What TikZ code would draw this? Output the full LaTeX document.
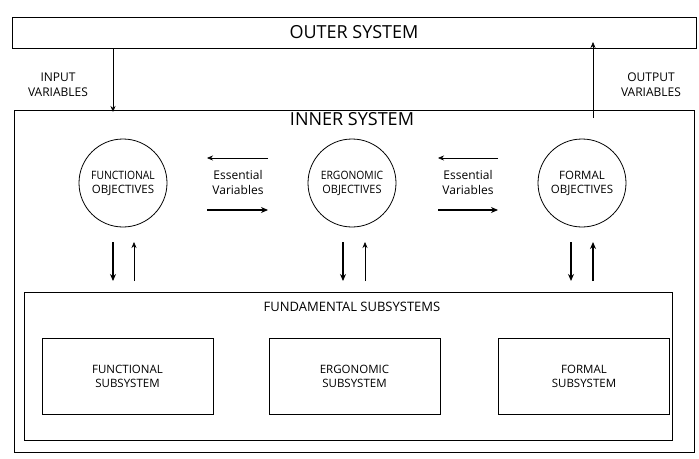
\documentclass[tikz,border=0pt]{standalone}
\usepackage{fontspec}
\setmainfont{Open Sans}
\usetikzlibrary{arrows.meta}
\begin{document}
\begin{tikzpicture}[x=1pt,y=-1pt,
    box/.style={draw,thick,inner sep=0pt},
    goal/.style={draw,thick,circle,minimum size=88pt,inner sep=0pt,align=center,font=\fontsize{11.5}{14}\selectfont},
    sub/.style={draw,thick,minimum width=171pt,minimum height=76pt,align=center,font=\fontsize{11.5}{14}\selectfont},
    lbl/.style={align=center,font=\fontsize{12}{15}\selectfont},
    thin arr/.style={-{Stealth[length=6pt,width=5pt]},semithick},
    thick arr/.style={-{Stealth[length=7pt,width=6pt]},line width=1.3pt}]
  \useasboundingbox (0,0) rectangle (699,458);
  % outer and inner frames
  \node[box,minimum width=684pt,minimum height=31pt] (outer) at (354,32.5) {};
  \node[font=\fontsize{18}{21}\selectfont] at (outer) {OUTER SYSTEM};
  \draw[thick] (14,110) rectangle (694,452);
  \node[font=\fontsize{18}{21}\selectfont] (inner) at (352,119) {INNER SYSTEM};
  \node[lbl] at (58,85) {INPUT\\VARIABLES};
  \node[lbl] at (651,85) {OUTPUT\\VARIABLES};
  % objectives
  \node[goal] (fun) at (123,183) {\scalebox{0.9}[1]{FUNCTIONAL}\\OBJECTIVES};
  \node[goal] (erg) at (352,183) {\scalebox{0.9}[1]{ERGONOMIC}\\\scalebox{0.95}[1]{OBJECTIVES}};
  \node[goal] (frm) at (582,183) {FORMAL\\OBJECTIVES};
  \coordinate (in) at (113,48);
  \coordinate (out) at (593,118);
  \draw[thin arr] (in) -- (113,112);
  \draw[thin arr] (out) -- (593,42);
  \node[lbl,font=\fontsize{12}{15}\selectfont\bfseries] (ev1) at (238,182) {\mdseries Essential\\\mdseries Variables};
  \node[lbl] (ev2) at (468,182) {Essential\\Variables};
  \draw[thin arr] (268,158) -- (207,158);
  \draw[thick arr] (207,210) -- (268,210);
  \draw[thin arr] (498,158) -- (438,158);
  \draw[thick arr] (438,210) -- (498,210);
  % subsystems
  \draw[thick] (24,292) rectangle (672,440);
  \node[lbl,font=\fontsize{13}{15}\selectfont] (fund) at (352,307) {FUNDAMENTAL SUBSYSTEMS};
  \node[sub] (sfun) at (127.5,376) {FUNCTIONAL\\SUBSYSTEM};
  \node[sub] (serg) at (354.5,376) {ERGONOMIC\\SUBSYSTEM};
  \node[sub] (sfrm) at (584,376) {FORMAL\\SUBSYSTEM};
  \foreach \xd/\xu/\st in {113/134/thin arr,343/365/thin arr,571/593/thick arr}{
    \draw[thick arr] (\xd,242) -- (\xd,281);
    \draw[\st] (\xu,281) -- (\xu,242);
  }
\end{tikzpicture}
\end{document}
